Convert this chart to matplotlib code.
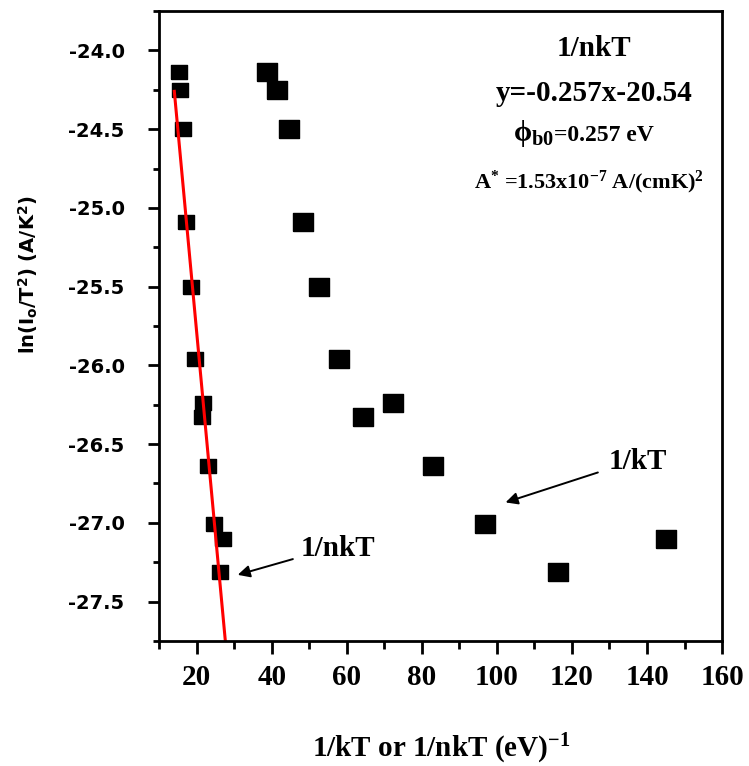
import matplotlib
matplotlib.use("Agg")
import matplotlib.pyplot as plt
from matplotlib.ticker import MultipleLocator, FixedLocator

# 1/nkT series
x_nkT = [15.2, 15.4, 16.2, 17.2, 18.5, 19.6, 21.7, 21.3, 23.1, 24.6, 27.1, 26.3]
y_nkT = [-24.14, -24.25, -24.50, -25.09, -25.50, -25.96, -26.24, -26.33, -26.64, -27.01, -27.10, -27.31]
# 1/kT series
x_kT = [38.6, 41.3, 44.5, 48.3, 52.5, 58.0, 72.3, 64.4, 82.9, 96.9, 145.1, 116.3]
y_kT = [-24.14, -24.25, -24.50, -25.09, -25.50, -25.96, -26.24, -26.33, -26.64, -27.01, -27.10, -27.31]
# linear fit line (1/nkT)
fit_x = [14.0, 27.6]
fit_y = [-24.26, -27.75]

xticks = [20, 40, 60, 80, 100, 120, 140, 160]
yticks = [-24.0, -24.5, -25.0, -25.5, -26.0, -26.5, -27.0, -27.5]

serif = ["Liberation Serif", "DejaVu Serif"]
sans = ["DejaVu Sans"]
plt.rcParams['mathtext.fontset'] = 'custom'
plt.rcParams['mathtext.rm'] = 'Liberation Serif:bold'
plt.rcParams['mathtext.it'] = 'Liberation Serif:bold'
plt.rcParams['mathtext.bf'] = 'Liberation Serif:bold'
plt.rcParams['mathtext.sf'] = 'DejaVu Sans:bold'

fig = plt.figure(figsize=(7.49, 7.66), dpi=100)
ax = fig.add_axes([0.2127, 0.1632, 0.7513, 0.8224])

rect_s = [(-1, -0.92), (1, -0.92), (1, 0.92), (-1, 0.92), (-1, -0.92)]
rect_l = [(-1, -0.9), (1, -0.9), (1, 0.9), (-1, 0.9), (-1, -0.9)]
ax.plot(x_nkT, y_nkT, linestyle='none', marker=rect_s, markersize=11, color='black')
ax.plot(x_kT, y_kT, linestyle='none', marker=rect_l, markersize=14.5, color='black')
ax.plot(fit_x, fit_y, color='red', lw=2.2)

ax.set_xlim(10, 160)
ax.set_ylim(-27.75, -23.75)
ax.xaxis.set_major_locator(FixedLocator(xticks))
ax.xaxis.set_minor_locator(MultipleLocator(10))
ax.yaxis.set_major_locator(FixedLocator(yticks))
ax.yaxis.set_minor_locator(MultipleLocator(0.25))
ax.set_xticklabels([str(v) for v in xticks])
ax.set_yticklabels([f"{v:.1f}" for v in yticks])

for s in ax.spines.values():
    s.set_linewidth(2)
ax.tick_params(axis='x', which='major', direction='out', length=9.5, width=2, pad=7)
ax.tick_params(axis='x', which='minor', direction='out', length=6, width=2)
ax.tick_params(axis='y', which='major', direction='out', length=8, width=2, pad=17)
ax.tick_params(axis='y', which='minor', direction='out', length=4.5, width=2)
ax.tick_params(top=False, right=False)
for lab in ax.get_xticklabels():
    lab.set_fontfamily(serif); lab.set_fontweight('bold'); lab.set_fontsize(21)
for lab in ax.get_yticklabels():
    lab.set_fontfamily(sans); lab.set_fontweight('bold'); lab.set_fontsize(14)

fig.text(0.5887, 1 - 757 / 766, r"1/kT or 1/nkT (eV)$^{\mathbf{-1}}$", ha='center', va='baseline',
         fontfamily=serif, fontweight='bold', fontsize=21)
fig.text(28 / 749, 1 - 275 / 766, r"ln(I$_\mathsf{o}$/T$^\mathsf{2}$) (A/K$^\mathsf{2}$)", rotation=90,
         ha='center', va='center', fontfamily=sans, fontweight='bold', fontsize=14)

ax.text(0.773, 0.928, "1/nkT", transform=ax.transAxes, ha='center', va='baseline', fontfamily=serif, fontweight='bold', fontsize=21)
ax.text(0.772, 0.857, "y=-0.257x-20.54", transform=ax.transAxes, ha='center', va='baseline', fontfamily=serif, fontweight='bold', fontsize=21)
ax.text(0.702, 0.794, r"$\mathbf{\phi_{b0}}$", transform=ax.transAxes, ha='right', va='baseline', fontfamily=serif, fontweight='bold', fontsize=21)
ax.text(0.702, 0.794, "=0.257 eV", transform=ax.transAxes, ha='left', va='baseline', fontfamily=serif, fontweight='bold', fontsize=17)
ax.text(0.764, 0.719, r"A$^{*}$ =1.53x10$^{-7}$ A/(cmK)$^{2}$", transform=ax.transAxes, ha='center', va='baseline', fontfamily=serif, fontweight='bold', fontsize=16)

# arrows
ax.annotate("", xy=(102.3, -26.87), xytext=(126.9, -26.68),
            arrowprops=dict(arrowstyle='-|>', color='black', lw=1.4, mutation_scale=18, shrinkA=0, shrinkB=0))
ax.annotate("", xy=(30.9, -27.33), xytext=(45.6, -27.23),
            arrowprops=dict(arrowstyle='-|>', color='black', lw=1.4, mutation_scale=18, shrinkA=0, shrinkB=0))
ax.text(129.7, -26.61, "1/kT", ha='left', va='center', fontfamily=serif, fontweight='bold', fontsize=21)
ax.text(47.7, -27.16, "1/nkT", ha='left', va='center', fontfamily=serif, fontweight='bold', fontsize=21)

fig.savefig("out.png", dpi=100)
